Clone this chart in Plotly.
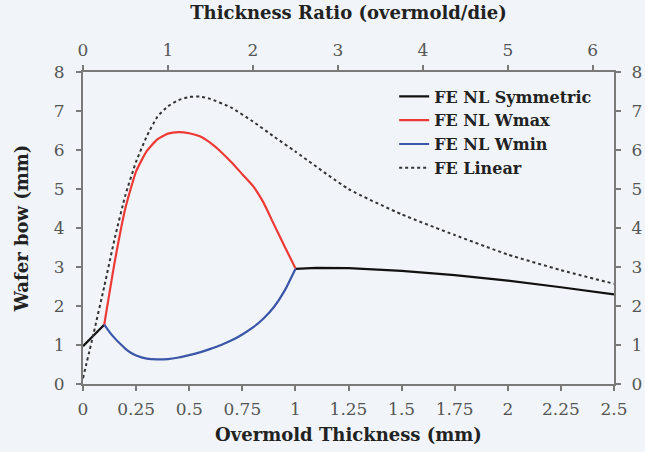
import plotly.graph_objects as go

# Data
sym_x = [0.0, 0.05, 0.1, None, 1.0, 1.05, 1.1, 1.25, 1.5, 1.75, 2.0, 2.25, 2.5]
sym_y = [0.97, 1.25, 1.52, None, 2.95, 2.97, 2.98, 2.97, 2.9, 2.79, 2.65, 2.48, 2.3]

wmax_x = [0.1, 0.15, 0.2, 0.25, 0.3, 0.35, 0.4, 0.45, 0.5, 0.55, 0.6, 0.65, 0.7, 0.75, 0.8, 0.85, 0.9, 0.95, 1.0]
wmax_y = [1.52, 3.15, 4.52, 5.45, 5.97, 6.27, 6.42, 6.46, 6.43, 6.35, 6.18, 5.95, 5.68, 5.38, 5.08, 4.65, 4.08, 3.52, 2.97]

wmin_x = [0.1, 0.125, 0.15, 0.175, 0.2, 0.225, 0.25, 0.3, 0.35, 0.4, 0.45, 0.5, 0.55, 0.6, 0.65, 0.7, 0.75, 0.8, 0.85, 0.9, 0.95, 1.0]
wmin_y = [1.52, 1.33, 1.17, 1.03, 0.9, 0.8, 0.73, 0.65, 0.63, 0.64, 0.68, 0.74, 0.81, 0.9, 1.0, 1.12, 1.27, 1.45, 1.68, 1.98, 2.4, 2.95]

lin_x = [0.0, 0.05, 0.1, 0.15, 0.2, 0.25, 0.3, 0.35, 0.4, 0.45, 0.5, 0.55, 0.6, 0.7, 0.8, 0.9, 1.0, 1.25, 1.5, 1.75, 2.0, 2.25, 2.5]
lin_y = [0.15, 1.3, 2.5, 3.75, 4.85, 5.7, 6.35, 6.85, 7.12, 7.28, 7.36, 7.37, 7.31, 7.08, 6.73, 6.34, 5.96, 5.0, 4.35, 3.82, 3.32, 2.92, 2.57]

x_ticks = [0, 0.25, 0.5, 0.75, 1, 1.25, 1.5, 1.75, 2, 2.25, 2.5]
x_labels = ["0", "0.25", "0.5", "0.75", "1", "1.25", "1.5", "1.75", "2", "2.25", "2.5"]
ratio_ticks = [0, 1, 2, 3, 4, 5, 6]
y_ticks = [0, 1, 2, 3, 4, 5, 6, 7, 8]

BG = "#f1f5f9"
FONT = "DejaVu Serif"
AXC = "#7a7a7a"
TITLE_FONT = dict(family=FONT, size=18, color="#222222")

fig = go.Figure()
fig.add_trace(go.Scatter(x=sym_x, y=sym_y, mode="lines", name="FE NL Symmetric",
                         line=dict(color="#111111", width=2.2), connectgaps=False))
fig.add_trace(go.Scatter(x=wmax_x, y=wmax_y, mode="lines", name="FE NL Wmax",
                         line=dict(color="#ee3a36", width=2.2, shape="spline", smoothing=0.5)))
fig.add_trace(go.Scatter(x=wmin_x, y=wmin_y, mode="lines", name="FE NL Wmin",
                         line=dict(color="#3b55a8", width=2.2, shape="spline", smoothing=0.5)))
fig.add_trace(go.Scatter(x=lin_x, y=lin_y, mode="lines", name="FE Linear",
                         line=dict(color="#333333", width=2, dash="dot", shape="spline", smoothing=0.5)))
# invisible traces to activate secondary axes
fig.add_trace(go.Scatter(x=[0, 6.25], y=[None, None], xaxis="x2", yaxis="y", showlegend=False, hoverinfo="skip"))
fig.add_trace(go.Scatter(x=[0, 2.5], y=[None, None], xaxis="x", yaxis="y2", showlegend=False, hoverinfo="skip"))

common = dict(showgrid=False, zeroline=False, showline=True, linecolor=AXC, linewidth=2,
              ticks="outside", ticklen=5, tickwidth=1.5, tickcolor=AXC, automargin=False,
              tickfont=dict(family=FONT, size=17, color="#555555"))

fig.update_layout(
    width=645, height=452,
    paper_bgcolor=BG, plot_bgcolor=BG,
    margin=dict(l=83, r=31, t=72, b=68),
    font=dict(family=FONT, color="#222222"),
    xaxis=dict(range=[0, 2.5], tickvals=x_ticks, ticktext=x_labels, ticklabelstandoff=4,
               title=dict(text="<b>Overmold Thickness (mm)</b>", font=TITLE_FONT, standoff=10),
               **common),
    xaxis2=dict(range=[0, 6.25], tickvals=ratio_ticks, overlaying="x", side="top", ticklabelstandoff=2,
                title=dict(text="<b>Thickness Ratio (overmold/die)</b>", font=TITLE_FONT, standoff=16),
                **common),
    yaxis=dict(range=[0, 8], tickvals=y_ticks, ticklabelstandoff=8,
               title=dict(text="<b>Wafer bow (mm)</b>", font=TITLE_FONT, standoff=20),
               **common),
    yaxis2=dict(range=[0, 8], tickvals=y_ticks, overlaying="y", side="right", ticklabelstandoff=7, **common),
    legend=dict(x=0.586, y=0.976, xanchor="left", yanchor="top", bgcolor="rgba(0,0,0,0)",
                font=dict(family=FONT, size=16, color="#222222", weight="bold"), itemwidth=30, tracegroupgap=0),
    showlegend=True,
)

fig.write_html("out.html")
